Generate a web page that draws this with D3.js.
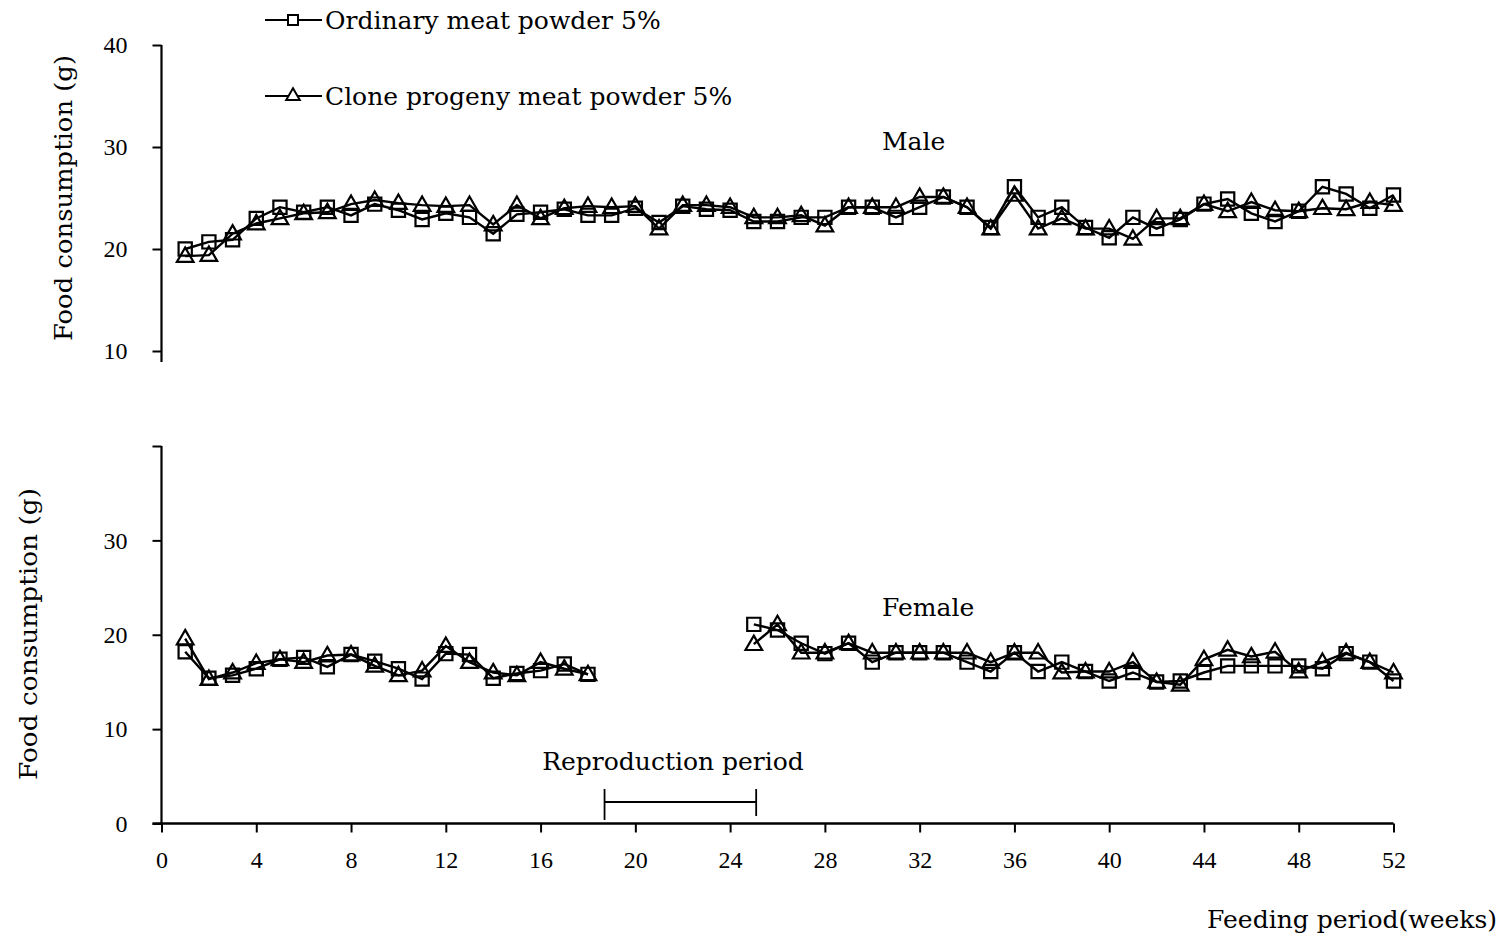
<!DOCTYPE html>
<html>
<head>
<meta charset="utf-8">
<script src="https://cdn.jsdelivr.net/npm/d3@7"></script>
<style>
  body { margin: 0; background: #fff; }
  svg { display: block; }
  text { font-family: "DejaVu Serif", "Liberation Serif", serif; fill: #000; }
  .axis text { font-family: "Liberation Serif", serif; font-size: 24px; }
</style>
</head>
<body>
<div id="chart"></div>
<script>
// weeks of feeding
var weeks = [1,2,3,4,5,6,7,8,9,10,11,12,13,14,15,16,17,18,19,20,21,22,23,24,25,26,
  27,28,29,30,31,32,33,34,35,36,37,38,39,40,41,42,43,44,45,46,47,48,49,50,51,52]

// male, food consumption (g)
var maleOrdinary = [20.0,20.7,20.9,23.0,24.1,23.6,24.1,23.3,24.4,23.8,22.9,23.5,23.1,21.5,23.4,23.6,23.9,23.3,23.3,24.0,
  22.6,24.2,23.9,23.8,22.7,22.7,23.1,23.1,24.1,24.1,23.1,24.1,25.1,24.1,22.1,26.1,23.1,24.1,22.1,21.1,
  23.1,22.0,22.9,24.4,24.9,23.5,22.7,23.7,26.1,25.4,24.0,25.3]
var maleClone = [19.3,19.4,21.5,22.5,23.0,23.5,23.6,24.4,24.8,24.5,24.3,24.2,24.3,22.4,24.3,23.0,24.0,24.2,24.1,24.2,
  22.0,24.3,24.3,24.1,23.1,23.1,23.3,22.3,24.1,24.1,24.1,25.1,25.1,24.1,22.0,25.3,22.0,23.0,22.0,22.0,
  21.0,23.0,23.0,24.4,23.7,24.6,23.8,23.7,24.0,23.9,24.6,24.3]

// female, food consumption (g); weeks 19-24 = reproduction period, no data
var femaleOrdinary = [18.2,15.4,15.7,16.4,17.4,17.6,16.6,17.9,17.2,16.4,15.3,18.0,17.9,15.4,15.9,16.2,16.9,15.8,
  null,null,null,null,null,null,
  21.1,20.5,19.1,18.0,19.1,17.1,18.1,18.1,18.1,17.1,16.1,18.1,16.1,17.1,16.1,15.1,
  16.0,15.0,15.1,16.0,16.7,16.7,16.7,16.7,16.4,18.0,17.1,15.1]
var femaleClone = [19.6,15.3,16.0,17.0,17.4,17.1,17.8,17.9,16.7,15.7,16.2,18.8,17.1,16.0,15.7,17.1,16.4,15.8,
  null,null,null,null,null,null,
  19.0,21.1,18.1,18.1,19.1,18.1,18.1,18.1,18.1,18.1,17.1,18.1,18.1,16.0,16.1,16.1,
  17.1,15.0,14.7,17.4,18.4,17.7,18.2,16.1,17.1,18.1,17.1,16.0]

var xTicks = [0,4,8,12,16,20,24,28,32,36,40,44,48,52]
var yTicksTop = [10,20,30,40]
var yTicksBottom = [0,10,20,30,40]
var reproPeriod = [18.7, 25.1]

var width = 1504
var height = 942

var svg = d3.select("#chart").append("svg")
  .attr("width", width)
  .attr("height", height)

var x = d3.scaleLinear().domain([0, 52]).range([161.5, 1393.5])
var yTop = d3.scaleLinear().domain([10, 40]).range([351, 45])
var yBot = d3.scaleLinear().domain([0, 40]).range([823.5, 446])

var sq = d3.symbol().type(d3.symbolSquare).size(175)
var tri = d3.symbol().type(d3.symbolTriangle).size(120)

function drawSeries(values, y, sym) {
  var pts = weeks.map(function (w, i) { return { w: w, v: values[i] } })
  var line = d3.line()
    .defined(function (d) { return d.v != null })
    .x(function (d) { return x(d.w) })
    .y(function (d) { return y(d.v) })
  svg.append("path")
    .attr("d", line(pts))
    .attr("fill", "none")
    .attr("stroke", "#000")
    .attr("stroke-width", 2.4)
  svg.append("g").selectAll("path")
    .data(pts.filter(function (d) { return d.v != null }))
    .enter().append("path")
    .attr("d", sym)
    .attr("transform", function (d) { return "translate(" + x(d.w) + "," + (y(d.v) + (sym === tri ? 1 : 0)) + ")" })
    .attr("fill", "none")
    .attr("stroke", "#000")
    .attr("stroke-width", 2.2)
}

// ---- top panel (male)
var gTop = svg.append("g")
  .attr("class", "axis")
  .attr("transform", "translate(" + x(0) + ",0)")
  .call(d3.axisLeft(yTop).tickValues(yTicksTop).tickSize(9).tickPadding(25))
gTop.select(".domain").remove()
gTop.selectAll("line").attr("stroke-width", 2)
svg.append("line")
  .attr("x1", x(0)).attr("x2", x(0))
  .attr("y1", yTop(40)).attr("y2", yTop(10) + 11)
  .attr("stroke", "#000").attr("stroke-width", 2.2)

drawSeries(maleOrdinary, yTop, sq)
drawSeries(maleClone, yTop, tri)

svg.append("text")
  .attr("x", 882).attr("y", 150)
  .style("font-size", "25px")
  .text("Male")

// ---- bottom panel (female)
var gBot = svg.append("g")
  .attr("class", "axis")
  .attr("transform", "translate(" + x(0) + ",0)")
  .call(d3.axisLeft(yBot).tickValues(yTicksBottom).tickSize(9).tickPadding(25)
    .tickFormat(function (d) { return d == 40 ? "" : d }))
gBot.select(".domain").remove()
gBot.selectAll("line").attr("stroke-width", 2)
svg.append("line")
  .attr("x1", x(0)).attr("x2", x(0))
  .attr("y1", yBot(40)).attr("y2", yBot(0))
  .attr("stroke", "#000").attr("stroke-width", 2.2)

var gX = svg.append("g")
  .attr("class", "axis")
  .attr("transform", "translate(0," + yBot(0) + ")")
  .call(d3.axisBottom(x).tickValues(xTicks).tickSize(9).tickPadding(18))
gX.select(".domain").remove()
gX.selectAll("line").attr("stroke-width", 2)
svg.append("line")
  .attr("x1", x(0) - 9).attr("x2", x(52))
  .attr("y1", yBot(0)).attr("y2", yBot(0))
  .attr("stroke", "#000").attr("stroke-width", 2.6)

drawSeries(femaleOrdinary, yBot, sq)
drawSeries(femaleClone, yBot, tri)

svg.append("text")
  .attr("x", 882).attr("y", 616)
  .style("font-size", "25px")
  .text("Female")

// reproduction period bracket
var br = svg.append("g").attr("stroke", "#000").attr("stroke-width", 1.8)
br.append("line")
  .attr("x1", x(reproPeriod[0])).attr("x2", x(reproPeriod[1]))
  .attr("y1", 802).attr("y2", 802)
br.append("line")
  .attr("x1", x(reproPeriod[0])).attr("x2", x(reproPeriod[0]))
  .attr("y1", 789).attr("y2", 820)
br.append("line")
  .attr("x1", x(reproPeriod[1])).attr("x2", x(reproPeriod[1]))
  .attr("y1", 789).attr("y2", 816)
svg.append("text")
  .attr("x", 673).attr("y", 770)
  .attr("text-anchor", "middle")
  .style("font-size", "25px")
  .text("Reproduction period")

// axis titles
svg.append("text")
  .attr("transform", "translate(72,198) rotate(-90)")
  .attr("text-anchor", "middle")
  .style("font-size", "25px")
  .attr("textLength", 286).attr("lengthAdjust", "spacingAndGlyphs")
  .text("Food consumption (g)")
svg.append("text")
  .attr("transform", "translate(37,634) rotate(-90)")
  .attr("text-anchor", "middle")
  .style("font-size", "25px")
  .attr("textLength", 292).attr("lengthAdjust", "spacingAndGlyphs")
  .text("Food consumption (g)")
svg.append("text")
  .attr("x", 1497).attr("y", 928)
  .attr("text-anchor", "end")
  .style("font-size", "25px")
  .text("Feeding period(weeks)")

// legend
var legend = [
  { label: "Ordinary meat powder 5%", sym: sq, y: 20 },
  { label: "Clone progeny meat powder 5%", sym: tri, y: 96 }
]
legend.forEach(function (d) {
  svg.append("line")
    .attr("x1", 265).attr("x2", 322)
    .attr("y1", d.y).attr("y2", d.y)
    .attr("stroke", "#000").attr("stroke-width", 2.2)
  svg.append("path")
    .attr("d", d.sym === sq ? d3.symbol().type(d3.symbolSquare).size(100)() : d3.symbol().type(d3.symbolTriangle).size(80)())
    .attr("transform", "translate(293," + d.y + ")")
    .attr("fill", "#fff").attr("stroke", "#000").attr("stroke-width", 2)
  svg.append("text")
    .attr("x", 325).attr("y", d.y + 9)
    .style("font-size", "25px")
    .text(d.label)
})
</script>
</body>
</html>
